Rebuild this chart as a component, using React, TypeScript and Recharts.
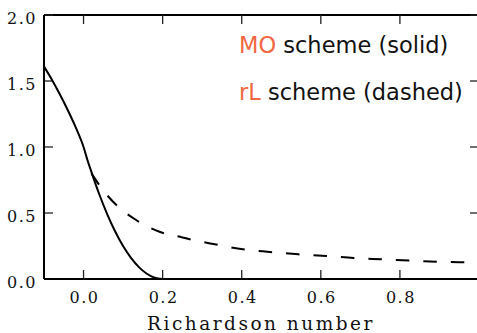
import React from 'react';
import { LineChart, Line, XAxis, YAxis, ReferenceLine } from 'recharts';

// MO scheme (solid)
const moRi = [-0.1, -0.08, -0.06, -0.04, -0.02, 0, 0.01, 0.02, 0.04, 0.06, 0.08, 0.1, 0.12, 0.14, 0.16, 0.18, 0.2];
const moF = [1.61, 1.51, 1.4, 1.28, 1.15, 1.0, 0.9, 0.81, 0.64, 0.49, 0.36, 0.25, 0.16, 0.09, 0.04, 0.01, 0.0];

// rL scheme (dashed)
const rlRi = [0.02, 0.05, 0.083, 0.133, 0.192, 0.25, 0.285, 0.332, 0.403, 0.471, 0.543, 0.614, 0.683, 0.754, 0.826, 0.898, 0.97, 1.0];
const rlF = [0.8, 0.67, 0.56, 0.447, 0.358, 0.315, 0.29, 0.263, 0.225, 0.205, 0.187, 0.174, 0.159, 0.149, 0.139, 0.131, 0.126, 0.122];

const xTicks = [0, 0.2, 0.4, 0.6, 0.8];
const yTicks = [0, 0.5, 1.0, 1.5, 2.0];
const xDomain = [-0.1, 1.0];
const yDomain = [0, 2.0];

const legendItems = [
  { key: 'MO', rest: ' scheme (solid)' },
  { key: 'rL', rest: ' scheme (dashed)' },
];
const xLabel = 'Richardson number';

const moData = moRi.map((x, i) => ({ x, y: moF[i] }));
const rlData = rlRi.map((x, i) => ({ x, y: rlF[i] }));

const ORANGE = '#f26640';
const serif = "'DejaVu Serif', serif";
const sans = "'DejaVu Sans', sans-serif";

// layout
const CHART_W = 490;
const CHART_H = 333;
const MARGIN = { top: 15, right: 11, left: 0, bottom: 0 };
const Y_AXIS_W = 44;
const X_AXIS_H = 54;
const PLOT_W = CHART_W - MARGIN.right - MARGIN.left - Y_AXIS_W;
const PLOT_H = CHART_H - MARGIN.top - MARGIN.bottom - X_AXIS_H;
const TICK_PX = 9;
const tickDy = (TICK_PX * (yDomain[1] - yDomain[0])) / PLOT_H;
const tickDx = (TICK_PX * (xDomain[1] - xDomain[0])) / PLOT_W;

const BottomTick = (props: any) => {
  const { x, y, payload } = props;
  return (
    <text x={x + 1} y={y + 24} textAnchor="middle" style={{ fontFamily: serif, fontSize: 16, letterSpacing: 1.5 }} fill="#111">
      {Number(payload.value).toFixed(1)}
    </text>
  );
};

const LeftTick = (props: any) => {
  const { x, y, payload } = props;
  return (
    <text x={x - 7} y={y + 8.5} textAnchor="end" style={{ fontFamily: serif, fontSize: 16, letterSpacing: 1.5 }} fill="#111">
      {Number(payload.value).toFixed(1)}
    </text>
  );
};

const axisLine = { stroke: '#000', strokeWidth: 2 };
const TICK_STROKE = '#222';
const TICK_W = 1.3;

export default function App() {
  return (
    <div style={{ position: 'absolute', left: 0, top: 0, width: 477, height: 333, overflow: 'hidden', background: '#fff' }}>
      <LineChart width={CHART_W} height={CHART_H} margin={MARGIN}>
        <XAxis
          dataKey="x"
          type="number"
          domain={xDomain}
          allowDataOverflow
          ticks={xTicks}
          height={X_AXIS_H}
          tickSize={0}
          tickMargin={0}
          tickLine={false}
          axisLine={axisLine}
          tick={<BottomTick />}
          interval={0}
        />
        <YAxis
          type="number"
          domain={yDomain}
          allowDataOverflow
          ticks={yTicks}
          width={Y_AXIS_W}
          tickSize={0}
          tickMargin={0}
          tickLine={false}
          axisLine={axisLine}
          tick={<LeftTick />}
          interval={0}
        />
        {/* top and right spines */}
        <ReferenceLine y={yDomain[1]} stroke="#000" strokeWidth={2} />
        <ReferenceLine x={xDomain[1]} stroke="#000" strokeWidth={2} />
        {/* inward ticks on bottom and top */}
        {xTicks.map((t) => (
          <ReferenceLine key={'b' + t} segment={[{ x: t, y: yDomain[0] }, { x: t, y: yDomain[0] + tickDy }]} stroke={TICK_STROKE} strokeWidth={TICK_W} />
        ))}
        {xTicks.map((t) => (
          <ReferenceLine key={'t' + t} segment={[{ x: t, y: yDomain[1] }, { x: t, y: yDomain[1] - tickDy }]} stroke={TICK_STROKE} strokeWidth={TICK_W} />
        ))}
        {/* inward ticks on left and right */}
        {yTicks.map((t) => (
          <ReferenceLine key={'l' + t} segment={[{ x: xDomain[0], y: t }, { x: xDomain[0] + tickDx, y: t }]} stroke={TICK_STROKE} strokeWidth={TICK_W} />
        ))}
        {yTicks.map((t) => (
          <ReferenceLine key={'r' + t} segment={[{ x: xDomain[1], y: t }, { x: xDomain[1] - tickDx, y: t }]} stroke={TICK_STROKE} strokeWidth={TICK_W} />
        ))}
        <Line data={moData} dataKey="y" type="monotone" stroke="#000" strokeWidth={2} dot={false} isAnimationActive={false} />
        <Line data={rlData} dataKey="y" type="monotone" stroke="#000" strokeWidth={2} strokeDasharray="13.5 14" dot={false} isAnimationActive={false} />
      </LineChart>
      <svg width={477} height={333} style={{ position: 'absolute', left: 0, top: 0, pointerEvents: 'none' }}>
        {legendItems.map((it, i) => (
          <text key={it.key} x={239} y={53 + i * 47} style={{ fontFamily: sans, fontSize: 22.5 }} fill="#111">
            <tspan fill={ORANGE}>{it.key}</tspan>
            {it.rest}
          </text>
        ))}
        <text x={261} y={330} textAnchor="middle" style={{ fontFamily: serif, fontSize: 18.5, letterSpacing: 2.5 }} fill="#111">
          {xLabel}
        </text>
      </svg>
    </div>
  );
}
